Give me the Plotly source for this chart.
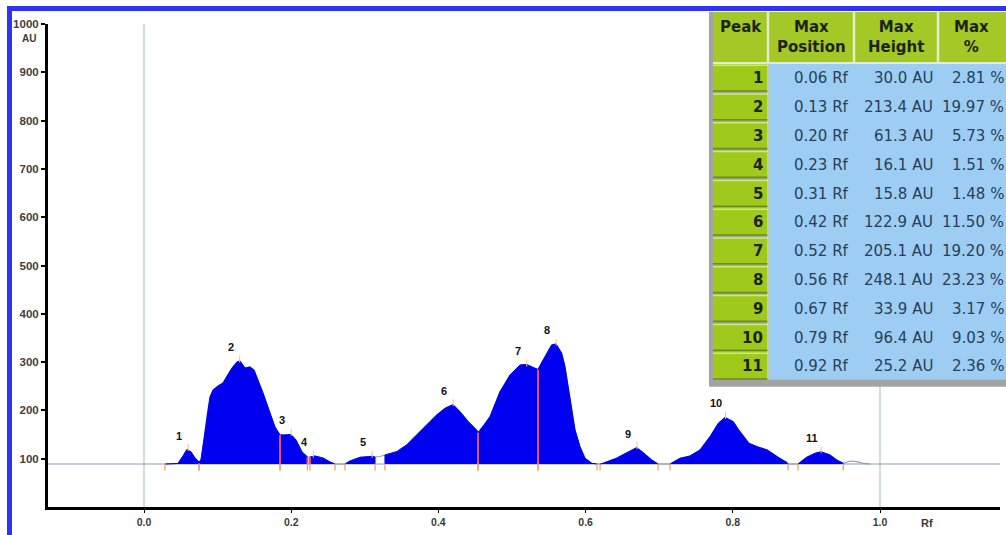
import plotly.graph_objects as go

# ---------------- data ----------------
# densitometric profile: Rf position and signal (AU)
profile_rf = [0.0285, 0.0462, 0.0530, 0.0584, 0.0639, 0.0693, 0.0747, 0.0774, 0.0815, 0.0856,
              0.0897, 0.0938, 0.1005, 0.1073, 0.1128, 0.1196, 0.1264, 0.1304, 0.1372, 0.1440,
              0.1495, 0.1549, 0.1617, 0.1712, 0.1780, 0.1848, 0.1916, 0.1997, 0.2065, 0.2147,
              0.2221, 0.2255, 0.2323, 0.2432, 0.2527, 0.2595, 0.2731, 0.2799, 0.2935, 0.3098,
              0.3139, 0.3207, 0.3274, 0.3433, 0.3569, 0.3705, 0.3841, 0.3977, 0.4090, 0.4198,
              0.4293, 0.4406, 0.4520, 0.4538, 0.4620, 0.4701, 0.4837, 0.4973, 0.5109, 0.5200,
              0.5272, 0.5353, 0.5448, 0.5539, 0.5598, 0.5675, 0.5720, 0.5765, 0.5811, 0.5856,
              0.5924, 0.5992, 0.6083, 0.6155, 0.6196, 0.6236, 0.6418, 0.6554, 0.6694, 0.6784,
              0.6898, 0.6984, 0.7147, 0.7283, 0.7418, 0.7554, 0.7690, 0.7803, 0.7894, 0.8007,
              0.8071, 0.8220, 0.8333, 0.8469, 0.8605, 0.8741, 0.8750, 0.8886, 0.9004, 0.9117,
              0.9198, 0.9321, 0.9412, 0.9501, 0.9592, 0.9683, 0.9773, 0.9864]
profile_au = [89.0, 90.1, 105.6, 119.0, 113.9, 101.4, 93.2, 97.3, 138.7, 190.5,
              227.7, 242.2, 250.5, 256.7, 271.2, 287.8, 300.2, 302.3, 287.8, 289.9,
              283.6, 262.9, 236.0, 194.6, 165.6, 149.1, 149.1, 150.1, 138.7, 113.9,
              103.5, 103.5, 105.6, 101.4, 93.2, 89.0, 89.0, 95.2, 102.9, 104.8,
              103.5, 104.6, 107.7, 114.5, 128.4, 149.1, 169.8, 190.5, 204.3, 212.0,
              197.3, 176.6, 159.4, 153.8, 169.8, 187.0, 238.7, 273.3, 294.0, 295.0,
              289.9, 284.7, 311.2, 335.4, 337.5, 318.2, 290.5, 249.1, 200.8, 159.4,
              124.8, 100.8, 90.5, 89.0, 89.0, 90.5, 100.8, 112.4, 122.9, 112.4,
              97.3, 89.0, 89.0, 100.8, 105.6, 118.0, 145.5, 173.3, 185.5, 176.6,
              161.5, 131.9, 124.8, 118.0, 104.1, 91.7, 89.0, 89.0, 102.9, 111.2,
              114.3, 107.7, 97.3, 90.5, 95.2, 93.8, 90.5, 89.0]

BASELINE_AU = 89.0

# integration regions (Rf)
region_start = [0.0285, 0.0747, 0.1848, 0.2255, 0.2731, 0.3274, 0.4538, 0.5353, 0.6196, 0.7147, 0.8886]
region_end = [0.0747, 0.1848, 0.2221, 0.2595, 0.3139, 0.4538, 0.5353, 0.6155, 0.6984, 0.8750, 0.9501]
drop_lines_rf = [0.1848, 0.2221, 0.2255, 0.4538, 0.5353]

# peak table
peak_ids = ["1", "2", "3", "4", "5", "6", "7", "8", "9", "10", "11"]
max_position = [0.06, 0.13, 0.20, 0.23, 0.31, 0.42, 0.52, 0.56, 0.67, 0.79, 0.92]
max_height = [30.0, 213.4, 61.3, 16.1, 15.8, 122.9, 205.1, 248.1, 33.9, 96.4, 25.2]
max_percent = [2.81, 19.97, 5.73, 1.51, 1.48, 11.50, 19.20, 23.23, 3.17, 9.03, 2.36]
table_headers = ["Peak", "Max<br>Position", "Max<br>Height", "Max<br>%"]

y_tick_vals = [100, 200, 300, 400, 500, 600, 700, 800, 900, 1000]
x_tick_vals = [0.0, 0.2, 0.4, 0.6, 0.8, 1.0]
grid_rf = [0.0, 1.0]

# ---------------- styling ----------------
W, H = 1006, 535
FILL_BLUE = "#0000f0"
AXIS_FONT = "Liberation Sans"
TABLE_FONT = "DejaVu Sans"
GREEN = "#9fca1c"
GREEN_HEAD = "#a4c826"
BLUE_CELL = "#9dcdf3"

X_RANGE = [(48 - 144) / 736, (1000 - 144) / 736]
X_DOMAIN = [48 / W, 1000 / W]
Y_DOMAIN = [1 - 507 / H, 1 - 24 / H]


def px_x(p):
    return p / W


def px_y(p):
    return 1 - p / H


fig = go.Figure()

# baseline
fig.add_trace(go.Scatter(x=X_RANGE, y=[BASELINE_AU, BASELINE_AU], mode="lines",
                         line=dict(color="#8c9cb4", width=1.2), hoverinfo="skip", showlegend=False))

# full profile outline
fig.add_trace(go.Scatter(x=profile_rf, y=profile_au, mode="lines",
                         line=dict(color="#8c9cb4", width=1.2), hoverinfo="skip", showlegend=False))

# filled integration regions
for s, e in zip(region_start, region_end):
    xs, ys = [], []
    for rx, ry in zip(profile_rf, profile_au):
        if s - 1e-6 <= rx <= e + 1e-6:
            xs.append(rx)
            ys.append(ry)
    fig.add_trace(go.Scatter(x=[s] + xs + [e], y=[BASELINE_AU] + ys + [BASELINE_AU],
                             mode="lines", fill="toself", fillcolor=FILL_BLUE,
                             line=dict(color=FILL_BLUE, width=1), hoverinfo="skip", showlegend=False))

# red drop lines between adjacent peaks
dx, dy = [], []
for d in drop_lines_rf:
    idx = min(range(len(profile_rf)), key=lambda i: abs(profile_rf[i] - d))
    dx += [d, d, None]
    dy += [BASELINE_AU, profile_au[idx], None]
fig.add_trace(go.Scatter(x=dx, y=dy, mode="lines", line=dict(color="#e8506a", width=2),
                         hoverinfo="skip", showlegend=False))

# region boundary marks under the baseline
bounds = region_start + region_end
fig.add_trace(go.Scatter(x=bounds, y=[BASELINE_AU - 6] * len(bounds), mode="markers",
                         marker=dict(symbol="line-ns-open", size=5, color="#f29a5a",
                                     line=dict(color="#f29a5a", width=1.2)),
                         hoverinfo="skip", showlegend=False))

# peak-top marks and labels
peak_top = [BASELINE_AU + h for h in max_height]
fig.add_trace(go.Scatter(x=max_position, y=[t + 4 for t in peak_top], mode="markers",
                         marker=dict(symbol="line-ns-open", size=5, color="#f0c090",
                                     line=dict(color="#f0c090", width=1)),
                         hoverinfo="skip", showlegend=False))
for pid, xp, yp in zip(peak_ids, max_position, peak_top):
    fig.add_annotation(x=xp, y=yp, text="<b>%s</b>" % pid, showarrow=False,
                       xanchor="center", yanchor="bottom", xshift=-9, yshift=6,
                       font=dict(family=AXIS_FONT, size=11, color="#111111"))

# vertical reference lines at Rf 0 and 1
for g in grid_rf:
    fig.add_shape(type="line", xref="x", yref="y", x0=g, x1=g, y0=0, y1=1000,
                  line=dict(color="#d3dbe0", width=2), layer="below")

# ---------------- peak table (built from the arrays) ----------------
col_edges = [713, 768, 854, 938, 1010]
head_top, head_bot = 12, 63
row_h = 28.8
n_rows = len(peak_ids)
table_bot = head_bot + n_rows * row_h


def rect(x0, x1, y0, y1, color):
    fig.add_shape(type="rect", xref="paper", yref="paper",
                  x0=px_x(x0), x1=px_x(x1), y0=px_y(y1), y1=px_y(y0),
                  fillcolor=color, line=dict(width=0), layer="above")


def hline(x0, x1, y, color, width):
    fig.add_shape(type="line", xref="paper", yref="paper",
                  x0=px_x(x0), x1=px_x(x1), y0=px_y(y), y1=px_y(y),
                  line=dict(color=color, width=width), layer="above")


def vline(x, y0, y1, color, width):
    fig.add_shape(type="line", xref="paper", yref="paper",
                  x0=px_x(x), x1=px_x(x), y0=px_y(y0), y1=px_y(y1),
                  line=dict(color=color, width=width), layer="above")


# gray frame (left and bottom)
rect(709, W + 4, head_top, table_bot + 7, "#a3a3a3")
# header cells
rect(col_edges[0], W + 4, head_top, head_bot, GREEN_HEAD)
for xe in col_edges[1:-1]:
    vline(xe, head_top, head_bot, "#e4eecb", 2.5)
hline(col_edges[0], W + 4, head_bot, "#e4eecb", 2)
# data area
rect(col_edges[1] + 1, W + 4, head_bot + 1, table_bot, BLUE_CELL)
# peak-number cells
for i in range(n_rows):
    y0 = head_bot + i * row_h
    rect(col_edges[0], col_edges[1], y0 + 1, y0 + row_h, GREEN)
    hline(col_edges[0], col_edges[1], y0 + 2.2, "#cfe68a", 1.5)
    hline(col_edges[0], col_edges[1], y0 + row_h - 0.8, "#6c8a22", 1.6)
vline(col_edges[1], head_bot, table_bot, "#cfe3c0", 1.2)

for txt, x0, x1 in zip(table_headers, col_edges[:-1], col_edges[1:]):
    xc = (x0 + x1) / 2 if x1 <= W else (x0 + W - 2) / 2
    fig.add_annotation(xref="paper", yref="paper", x=px_x(xc), y=px_y(head_top + 4),
                       text="<b>%s</b>" % txt, showarrow=False, xanchor="center", yanchor="top",
                       align="center", font=dict(family=TABLE_FONT, size=15, color="#1c2410"))

cols = [["<b>%s</b>" % p for p in peak_ids],
        ["%.2f Rf" % v for v in max_position],
        ["%.1f AU" % v for v in max_height],
        ["%.2f %%" % v for v in max_percent]]
right_px = [765, 851, 935, 1006]
col_color = ["#1c2410", "#27405a", "#27405a", "#27405a"]
for c, vals in enumerate(cols):
    for i, v in enumerate(vals):
        yc = head_bot + (i + 0.5) * row_h + 1
        fig.add_annotation(xref="paper", yref="paper", x=px_x(right_px[c]), y=px_y(yc),
                           text=v, showarrow=False, xanchor="right", yanchor="middle",
                           font=dict(family=TABLE_FONT, size=15, color=col_color[c]))

# blue page border
rect(7, 12, 6, H, "#3232f2")
rect(7, W + 4, 6, 11, "#3232f2")

# axis captions
fig.add_annotation(xref="paper", yref="paper", x=px_x(29), y=px_y(39), text="<b>AU</b>", showarrow=False,
                   xanchor="center", yanchor="middle",
                   font=dict(family=AXIS_FONT, size=10, color="#3a3a3a"))
fig.add_annotation(xref="paper", yref="paper", x=px_x(927), y=px_y(523), text="<b>Rf</b>", showarrow=False,
                   xanchor="center", yanchor="middle",
                   font=dict(family=AXIS_FONT, size=11, color="#3a3a3a"))

fig.update_layout(
    width=W, height=H, autosize=False,
    margin=dict(l=0, r=0, t=0, b=0, autoexpand=False),
    paper_bgcolor="white", plot_bgcolor="rgba(0,0,0,0)",
    showlegend=False,
    xaxis=dict(domain=X_DOMAIN, range=X_RANGE, tickvals=x_tick_vals, tickformat=".1f",
               automargin=False,
               showgrid=False, zeroline=False, showline=True, linecolor="black", linewidth=3,
               ticks="outside", ticklen=3, tickcolor="black", tickwidth=1,
               tickfont=dict(family=AXIS_FONT, size=10.5, color="#3a3a3a", weight="bold")),
    yaxis=dict(domain=Y_DOMAIN, range=[0, 1000], tickvals=y_tick_vals,
               automargin=False,
               showgrid=False, zeroline=False, showline=True, linecolor="black", linewidth=3,
               ticks="outside", ticklen=4, tickcolor="black", tickwidth=2,
               tickfont=dict(family=AXIS_FONT, size=11.5, color="#404040", weight="bold")),
)

pin_page = (
    "document.documentElement.style.margin='0';"
    "document.body.style.margin='0';"
    "var gd=document.getElementsByClassName('plotly-graph-div')[0];"
    "gd.style.position='absolute';gd.style.top='0px';gd.style.left='0px';"
)
fig.write_html("out.html", config={"displayModeBar": False}, post_script=pin_page)
